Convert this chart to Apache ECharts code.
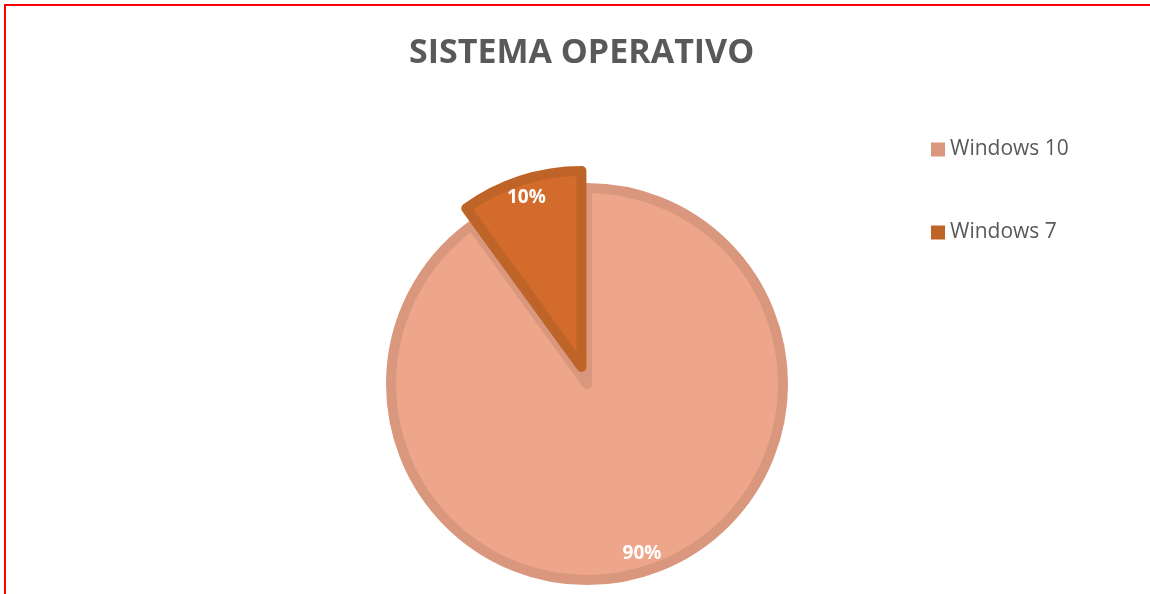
<!DOCTYPE html>
<html>
<head>
<meta charset="utf-8">
<script src="https://cdn.jsdelivr.net/npm/echarts@6/dist/echarts.min.js"></script>
<style>
html, body { margin: 0; padding: 0; background: #fff; overflow: hidden; }
#frame { position: absolute; left: 4px; top: 4px; width: 1300px; height: 800px; border: 2px solid #ff0000; }
#main { position: absolute; left: 0; top: 0; width: 1150px; height: 594px; }
</style>
</head>
<body>
<div id="frame"></div>
<div id="main"></div>
<script>
var titleText = 'SISTEMA OPERATIVO';
var osNames = ['Windows 10', 'Windows 7'];
var osValues = [90, 10];
var fillColors = ['#EEA68A', '#D26B2B'];
var edgeColors = ['#D9977D', '#BF6428'];

var myChart = echarts.init(document.getElementById('main'));

var pieData = osNames.map(function (n, i) {
    return {
        name: n,
        value: osValues[i],
        selected: i == 1,
        itemStyle: { color: fillColors[i], borderColor: edgeColors[i] }
    };
});
var labelData = osNames.map(function (n, i) {
    return { name: n, value: osValues[i], selected: i == 1 };
});

var option = {
    animation: false,
    title: {
        text: titleText,
        left: 404,
        top: 31,
        textStyle: {
            fontFamily: 'Open Sans',
            fontSize: 34,
            fontWeight: 'bold',
            color: '#595959'
        }
    },
    legend: {
        orient: 'vertical',
        left: 931,
        top: 139,
        padding: 0,
        itemWidth: 14,
        itemHeight: 14,
        itemGap: 62,
        icon: 'rect',
        selectedMode: false,
        textStyle: { fontFamily: 'Open Sans', fontSize: 21, color: '#595959' },
        data: osNames.map(function (n, i) {
            return { name: n, itemStyle: { color: edgeColors[i], borderWidth: 0 } };
        })
    },
    series: [{
        type: 'pie',
        center: [587, 384],
        radius: 196,
        startAngle: 90,
        clockwise: true,
        selectedMode: 'single',
        selectedOffset: 18,
        silent: true,
        itemStyle: { borderWidth: 10 },
        label: { show: false },
        labelLine: { show: false },
        emphasis: { disabled: true },
        data: pieData
    }, {
        type: 'pie',
        center: [587, 384],
        radius: [149, 201],
        startAngle: 90,
        clockwise: true,
        selectedMode: 'single',
        selectedOffset: 18,
        silent: true,
        itemStyle: { color: 'rgba(0,0,0,0)', borderWidth: 0 },
        label: {
            show: true,
            position: 'inside',
            formatter: '{d}%',
            fontFamily: 'Open Sans',
            fontSize: 19,
            fontWeight: 'bold',
            color: '#ffffff'
        },
        labelLine: { show: false },
        emphasis: { disabled: true },
        data: labelData
    }]
};
myChart.setOption(option);
</script>
</body>
</html>
